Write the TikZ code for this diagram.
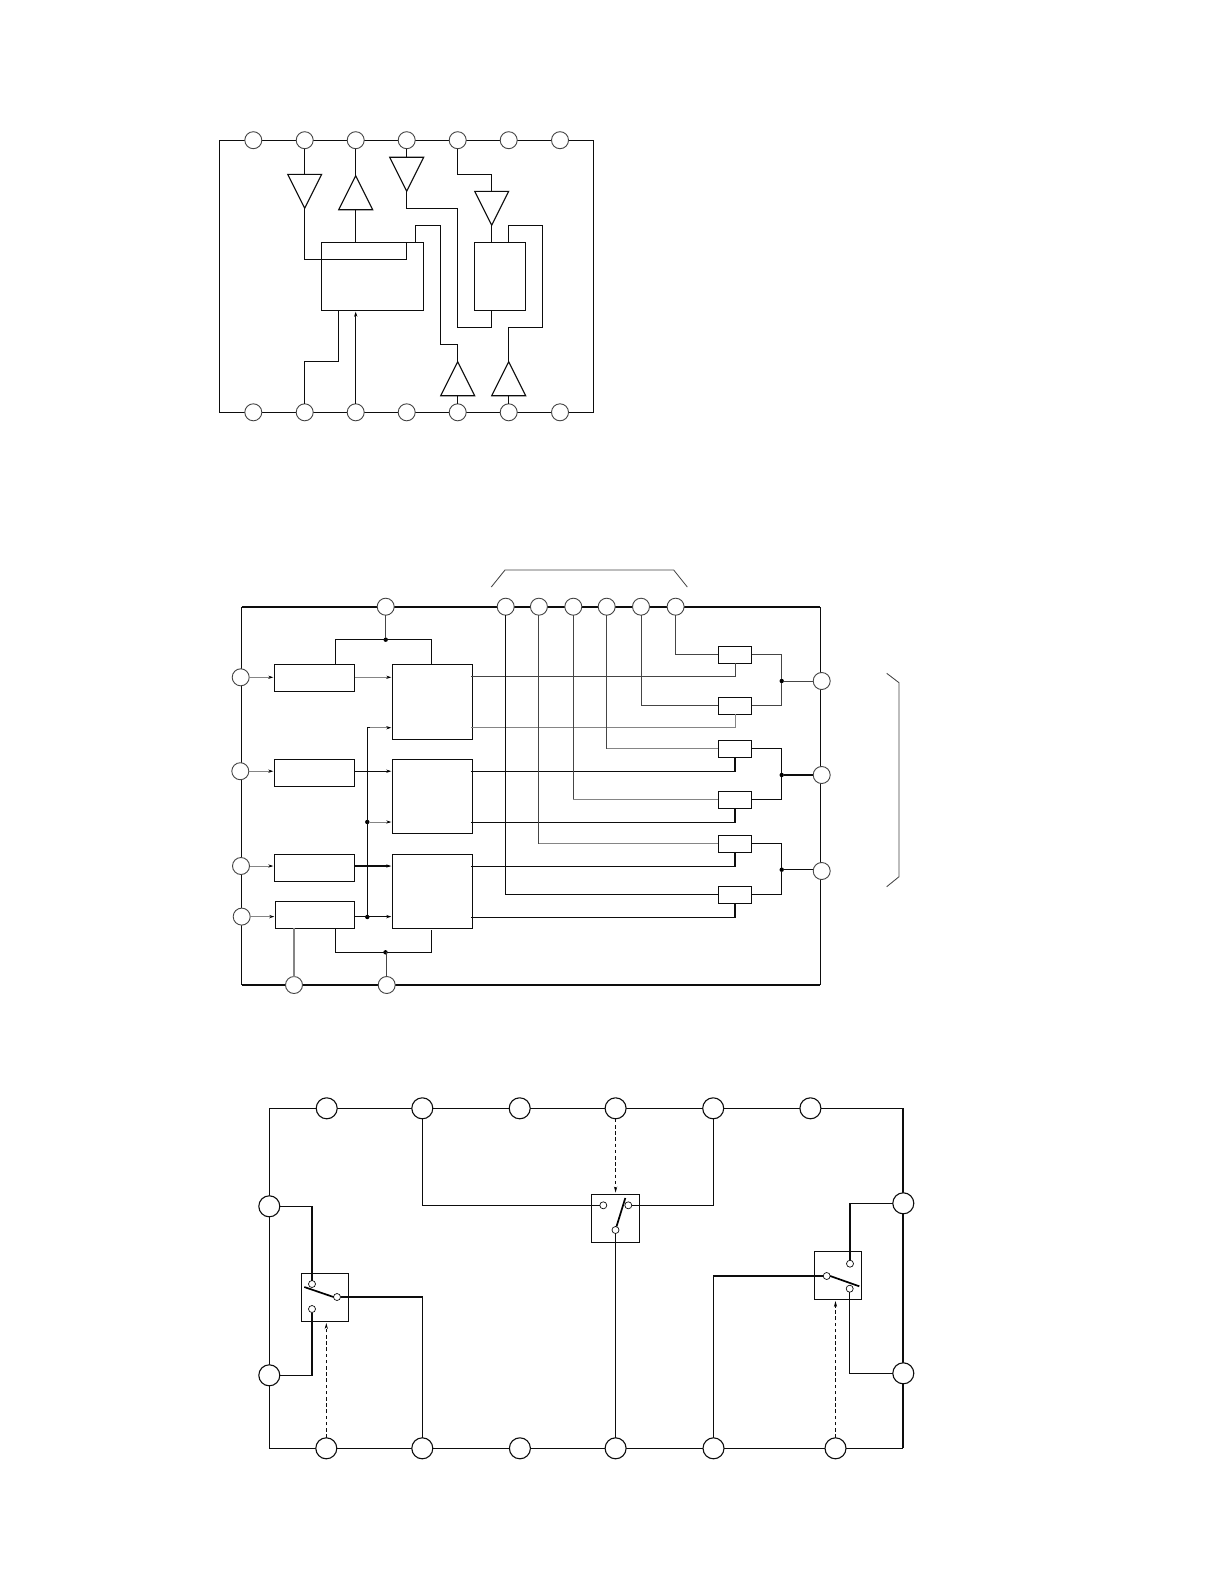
\documentclass[tikz,border=0pt]{standalone}
\usetikzlibrary{arrows.meta,shapes.geometric}
\definecolor{wk}{gray}{0.05}
\definecolor{wm}{gray}{0.27}
\definecolor{wl}{gray}{0.52}
\tikzset{
  wire/.style={draw=wk,line width=1.1pt,line join=miter},
  wirem/.style={draw=wm,line width=1pt},
  wirel/.style={draw=wl,line width=1pt},
  heavy/.style={draw=wk,line width=2pt},
  bracket/.style={draw=wm,line width=0.85pt},
  pinA/.style={circle,draw=wm,line width=0.9pt,fill=white,minimum size=17pt,inner sep=0pt,outer sep=0pt},
  pinC/.style={circle,draw=wk,line width=1.1pt,fill=white,minimum size=21pt,inner sep=0pt,outer sep=0pt},
  contact/.style={circle,draw=wk,line width=0.7pt,fill=white,minimum size=7pt,inner sep=0pt,outer sep=0pt},
  boxn/.style={rectangle,draw=wk,line width=1.1pt,inner sep=0pt,outer sep=0pt},
  dotn/.style={circle,fill=black,minimum size=4.4pt,inner sep=0pt,outer sep=0pt},
  tridown/.style={isosceles triangle,shape border rotate=-90,isosceles triangle stretches,draw=wk,line width=1.1pt,
     minimum width=34pt,minimum height=34pt,inner sep=0pt,outer sep=0pt,anchor=apex},
  triup/.style={isosceles triangle,shape border rotate=90,isosceles triangle stretches,draw=wk,line width=1.1pt,
     minimum width=34pt,minimum height=34pt,inner sep=0pt,outer sep=0pt,anchor=apex},
  tip/.style={-{Stealth[length=5pt,width=3.2pt,black]},shorten >=1pt},
  blade/.style={draw=black,line width=1.7pt},
  ctrl/.style={draw=wk,line width=0.95pt,dash pattern=on 3.6pt off 2.6pt,-{Stealth[length=6pt,width=3.2pt,black]},shorten >=1.7pt},
}
\begin{document}
\begin{tikzpicture}[x=1pt,y=-1pt]
\useasboundingbox (0,0) rectangle (1224,1582);
\fill[white] (0,0) rectangle (1224,1582);

%% ---------- Diagram 1 ----------
\coordinate (f1a) at (219.3,140.2);
\coordinate (f1c) at (593.3,412.3);
\draw[wire] (f1a) rectangle (f1c);
\foreach \n/\x in {1/253.3,2/304.7,3/355.7,4/406.7,5/457.7,6/508.7,7/560}{
  \node[pinA] (t\n) at (\x,140.2) {};
  \node[pinA] (u\n) at (\x,412.3) {};
}
\node[boxn,minimum width=102pt,minimum height=68.4pt] (b1) at (372.3,276.5) {};
\node[boxn,minimum width=51pt,minimum height=68.4pt] (b2) at (500.2,276.5) {};
\node[tridown] (g1) at (304.7,208.3) {};
\node[triup]   (g2) at (355.7,175.7) {};
\node[tridown] (g3) at (406.7,191.2) {};
\node[tridown] (g4) at (491.7,225.3) {};
\node[triup]   (g5) at (457.7,361.7) {};
\node[triup]   (g6) at (508.7,361.7) {};
\coordinate (b1a) at (406.3,242.3);
\coordinate (b1b) at (415.7,242.3);
\coordinate (b1c) at (338.3,310.7);
\coordinate (b2a) at (508.7,242.3);
\coordinate (b2b) at (491.7,310.7);
\coordinate (g4in) at (491.7,191.3);
\draw[wire] (t2.south) -- (t2.south |- g1.lower side);
\draw[wire] (g1.apex) -- (304.7,259.3) -- (b1a |- 0,259.3) -- (b1a);
\draw[wire] (t3.south) -- (g2.apex);
\draw[wire] (g2.lower side) -- (g2.lower side |- b1.north);
\draw[wire] (t4.south) -- (t4.south |- g3.lower side);
\draw[wire] (g3.apex) -- (406.7,208.3) -- (457.7,208.3) -- (457.7,327.3) -- (491.7,327.3) -- (b2b);
\draw[wire] (t5.south) -- (457.7,174.3) -- (491.7,174.3) -- (g4in);
\draw[wire] (g4.apex) -- (g4.apex |- b2.north);
\draw[wire] (b2a) -- (508.7,225.3) -- (542.3,225.3) -- (542.3,327.3) -- (508.7,327.3) -- (g6.apex);
\draw[wire] (b1b) -- (415.7,225.3) -- (440.3,225.3) -- (440.3,344.7) -- (457.7,344.7) -- (g5.apex);
\draw[wire] (g5.lower side) -- (u5.north);
\draw[wire] (g6.lower side) -- (u6.north);
\draw[wire] (b1c) -- (338.3,361.3) -- (304.7,361.3) -- (u2.north);
\draw[wire,tip] (u3.north) -- (u3.north |- b1.south);

%% ---------- Diagram 2 ----------
\coordinate (f2a) at (241.7,607);
\coordinate (f2b) at (820.3,607);
\coordinate (f2c) at (820.3,985);
\coordinate (f2d) at (241.7,985);
\draw[heavy] (f2a) -- (f2b);
\draw[heavy] (f2d) -- (f2c);
\draw[wire] (f2a) -- (f2d);
\draw[wire] (f2b) -- (f2c);

\node[pinA] (m0) at (385.7,606.7) {};
\foreach \n/\x in {1/505.7,2/538.9,3/573.3,4/606.7,5/641,6/675.6}{
  \node[pinA] (q\n) at (\x,606.7) {};
}
\node[pinA] (L1) at (240.7,677.3) {};
\node[pinA] (L2) at (240.3,771.2) {};
\node[pinA] (L3) at (241,866) {};
\node[pinA] (L4) at (241.7,916.6) {};
\node[pinA] (B1) at (294,985) {};
\node[pinA] (B2) at (386.7,985) {};
\node[pinA] (R1) at (821.7,681) {};
\node[pinA] (R2) at (821.7,775) {};
\node[pinA] (R3) at (821.7,871) {};

\node[boxn,minimum width=80.4pt,minimum height=27pt] (lb1) at (314.5,677.8) {};
\node[boxn,minimum width=80.4pt,minimum height=27pt] (lb2) at (314.5,772.8) {};
\node[boxn,minimum width=80.4pt,minimum height=27pt] (lb3) at (314.5,867.8) {};
\node[boxn,minimum width=79.4pt,minimum height=27pt] (lb4) at (315,914.8) {};
\node[boxn,minimum width=80pt,minimum height=75pt] (mb1) at (432.3,701.8) {};
\node[boxn,minimum width=80pt,minimum height=74pt] (mb2) at (432.3,796.3) {};
\node[boxn,minimum width=80pt,minimum height=74pt] (mb3) at (432.3,891.3) {};
\foreach \n/\y in {1/654.8,2/705.8,3/748.8,4/799.8,5/843.8,6/894.8}{
  \node[boxn,minimum width=33.4pt,minimum height=17pt] (sb\n) at (735,\y) {};
}
\node[dotn] (j0) at (385.7,639.7) {};
\node[dotn] (j1) at (385.5,952.3) {};
\node[dotn] (j2) at (367.3,822) {};
\node[dotn] (j3) at (367.3,917) {};
\node[dotn] (j4) at (781.7,681) {};
\node[dotn] (j5) at (781.7,775) {};
\node[dotn] (j6) at (781.7,869.7) {};

\draw[wirem] (m0.south) -- (j0);
\draw[wire] (lb1.north -| 335.3,0) -- (335.3,639.7) -- (431.3,639.7) -- (mb1.north -| 431.3,0);
\draw[wire] (lb4.south -| 335.3,0) -- (335.3,952.3) -- (431.3,952.3) -- (431.3,930);
\draw[wirem] (B2.north) -- (B2.north |- j1);
\draw[wirel,line width=1.3pt] (lb4.south -| B1.north) -- (B1.north);

\draw[wirel,tip] (L1.east) -- (L1.east -| lb1.west);
\draw[wirel,tip] (L2.east) -- (L2.east -| lb2.west);
\draw[wirel,tip] (L3.east) -- (L3.east -| lb3.west);
\draw[wirel,tip] (L4.east) -- (L4.east -| lb4.west);
\draw[wirel,tip] (L1.east -| lb1.east) -- (L1.east -| mb1.west);
\draw[wire,tip] (L2.east -| lb2.east) -- (L2.east -| mb2.west);
\draw[wire,tip] (L3.east -| lb3.east) -- (L3.east -| mb3.west);
\draw[wire,tip] (L4.east -| lb4.east) -- (L4.east -| mb3.west);
\draw[wire] (j3) -- (367.3,727.7) -- (370,727.7);
\draw[wirel,tip] (370,727.7) -- (392.3,727.7);
\draw[wirel,tip] (j2) -- (j2 -| mb2.west);

\coordinate (o1) at (470.8,676.7);
\coordinate (o2) at (470.8,727.7);
\coordinate (o3) at (470.8,771.3);
\coordinate (o4) at (470.8,822.3);
\coordinate (o5) at (470.8,866.3);
\coordinate (o6) at (470.8,917.3);
\draw[wirem] (o1) -| (sb1.south);
\draw[wirel] (o2) -| (sb2.south);
\draw[wire] (o3) -| (sb3.south);
\draw[wire] (o4) -| (sb4.south);
\draw[wire] (o5) -| (sb5.south);
\draw[wire] (o6) -| (sb6.south);

\draw[wire] (q1.south) |- (sb6.west);
\draw[wirem] (q2.south) -- (q2.south |- sb5.west);
\draw[wirel] (q2.south |- sb5.west) -- (sb5.west);
\draw[wirem] (q3.south) -- (q3.south |- sb4.west);
\draw[wirel] (q3.south |- sb4.west) -- (sb4.west);
\draw[wirem] (q4.south) -- (q4.south |- sb3.west);
\draw[wirel] (q4.south |- sb3.west) -- (sb3.west);
\draw[wirem] (q5.south) |- (sb2.west);
\draw[wirem] (q6.south) |- (sb1.west);

\draw[wirem] (sb1.east) -| (j4) |- (sb2.east);
\draw[wire] (sb3.east) -| (j5) |- (sb4.east);
\draw[wire] (sb5.east) -| (j6) |- (sb6.east);
\draw[wirem] (j4) -- (R1.west);
\draw[wire] (j5) -- (R2.west);
\draw[wire] (j6) -- (j6 -| R3.west);

\coordinate (bt1) at (491.3,587);
\coordinate (bt2) at (505,570);
\coordinate (bt3) at (673.7,570);
\coordinate (bt4) at (687.3,587);
\draw[bracket] (bt1) -- (bt2) -- (bt3) -- (bt4);
\coordinate (br1) at (886.7,673.3);
\coordinate (br2) at (899,682.7);
\coordinate (br3) at (899,876.7);
\coordinate (br4) at (886.7,886.7);
\draw[bracket] (br1) -- (br2) -- (br3) -- (br4);

%% ---------- Diagram 3 ----------
\coordinate (f3a) at (269.3,1108.3);
\coordinate (f3b) at (903.3,1108.3);
\coordinate (f3c) at (903.3,1448.3);
\coordinate (f3d) at (269.3,1448.3);
\draw[wire] (f3b) -- (f3a) -- (f3d) -- (f3c);
\draw[draw=wk,line width=2pt] (f3b) -- (f3c);

\foreach \n/\x in {1/326.7,2/422.3,3/519.7,4/615.6,5/713.2,6/810.4}{
  \node[pinC] (ct\n) at (\x,1108.3) {};
}
\foreach \n/\x in {1/326.3,2/422.3,3/519.9,4/615.6,5/713.5,6/835.5}{
  \node[pinC] (cb\n) at (\x,1448.3) {};
}
\node[pinC] (cl1) at (269.3,1206.3) {};
\node[pinC] (cl2) at (269.3,1375.3) {};
\node[pinC] (cr1) at (903.3,1203.3) {};
\node[pinC] (cr2) at (903.3,1373.3) {};

% left switch
\node[boxn,minimum width=47.4pt,minimum height=48pt] (s1) at (325,1297.3) {};
\node[contact] (s1a) at (312,1284) {};
\node[contact] (s1b) at (312,1309) {};
\node[contact] (s1c) at (337,1297) {};
\coordinate (s1k) at (304.3,1287);
\draw[blade] (s1k) -- (s1c.west);
\draw[wire] (cl1.east) -| (s1a.north);
\draw[wire] (cl2.east) -| (s1b.south);
\draw[wire] (s1c.east) -| (cb2.north);
\draw[ctrl] (cb1.north) -- (cb1.north |- s1.south);

% centre switch
\node[boxn,minimum width=47.6pt,minimum height=48pt] (s2) at (615.5,1218.3) {};
\node[contact] (s2a) at (603.3,1205.3) {};
\node[contact] (s2b) at (628.3,1205.3) {};
\node[contact] (s2c) at (615.5,1230) {};
\coordinate (s2k) at (625.3,1198);
\draw[blade] (s2c.north) ++(1,0) -- (s2k);
\draw[wire] (ct2.south) |- (s2a.west);
\draw[wire] (s2b.east) -| (ct5.south);
\draw[wire] (s2c.south) -- (s2c.south |- cb4.north);
\draw[ctrl] (ct4.south) -- (ct4.south |- s2.north);

% right switch
\node[boxn,minimum width=47.4pt,minimum height=48pt] (s3) at (838,1275.3) {};
\node[contact] (s3a) at (850,1263.7) {};
\node[contact] (s3b) at (849.7,1288.7) {};
\node[contact] (s3c) at (826.7,1276) {};
\coordinate (s3k) at (859.3,1286.3);
\draw[blade] (s3c.east) -- (s3k);
\draw[wire] (cr1.west) -| (s3a.north);
\draw[wire] (cr2.west) -| (s3b.south);
\draw[wire] (s3c.west) -| (cb5.north);
\draw[ctrl] (cb6.north) -- (cb6.north |- s3.south);
\end{tikzpicture}
\end{document}
